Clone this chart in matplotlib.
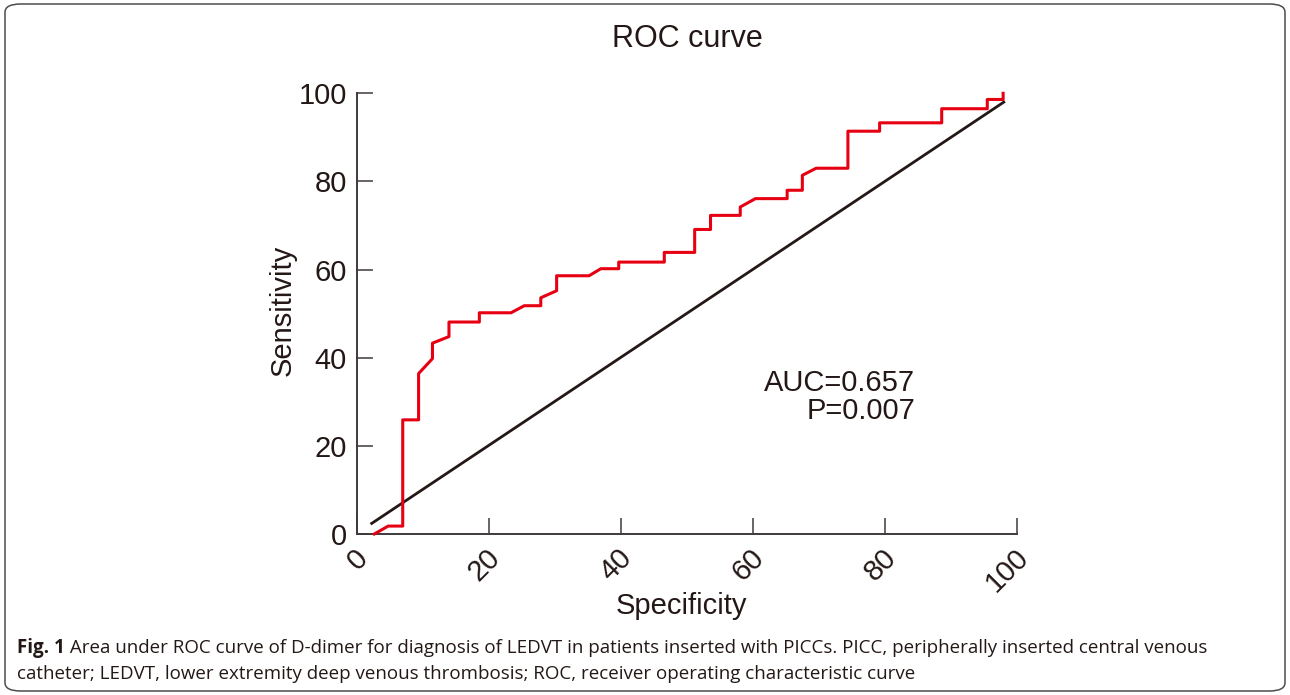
import matplotlib
matplotlib.use("Agg")
import matplotlib.pyplot as plt
from matplotlib.patches import FancyBboxPatch
from matplotlib.transforms import ScaledTranslation

# ROC curve points (specificity axis, sensitivity)
roc_x = [2.7, 4.8, 7.0, 7.0, 9.4, 9.4, 11.5, 11.5, 14.0, 14.0, 18.6, 18.6,
         23.4, 25.4, 27.9, 27.9, 30.3, 30.3, 35.2, 37.0, 39.7, 39.7, 46.6,
         46.6, 51.2, 51.2, 53.6, 53.6, 58.1, 58.1, 60.4, 65.2, 65.2, 67.5,
         67.5, 69.6, 74.4, 74.4, 79.2, 79.2, 88.6, 88.6, 95.5, 95.5, 97.9, 97.9]
roc_y = [0.0, 1.8, 1.8, 25.9, 25.9, 36.4, 39.8, 43.3, 44.8, 48.1, 48.1, 50.2,
         50.2, 51.8, 51.8, 53.6, 55.2, 58.6, 58.6, 60.2, 60.2, 61.7, 61.7,
         63.9, 63.9, 69.1, 69.1, 72.3, 72.3, 74.2, 76.1, 76.1, 78.0, 78.0,
         81.4, 83.0, 83.0, 91.4, 91.4, 93.3, 93.3, 96.5, 96.5, 98.6, 98.6, 100.0]
ref_x = [2.3, 98.0]
ref_y = [2.4, 98.0]

ticks = [0, 20, 40, 60, 80, 100]
auc_lines = ["AUC=0.657", "P=0.007"]
caption_bold = "Fig. 1"
caption_1 = (" Area under ROC curve of D-dimer for diagnosis of LEDVT in patients "
             "inserted with PICCs. PICC, peripherally inserted central venous")
caption_2 = ("catheter; LEDVT, lower extremity deep venous thrombosis; ROC, "
             "receiver operating characteristic curve")

TXT = "#231815"
AX = "#3e3a39"
RED = "#e60012"
W, H = 1290, 695

plt.rcParams["font.family"] = ["Liberation Sans", "DejaVu Sans"]

fig = plt.figure(figsize=(W / 100, H / 100), dpi=100)
ax = fig.add_axes([356.5 / W, 1 - 534 / H, (1017 - 356.5) / W, (534 - 93.3) / H])

ax.plot(ref_x, ref_y, color=TXT, lw=2.0, clip_on=False, zorder=2)
ax.plot(roc_x, roc_y, color=RED, lw=2.2, clip_on=False, zorder=3)

ax.set_xlim(0, 100)
ax.set_ylim(0, 100)
for s in ["top", "right"]:
    ax.spines[s].set_visible(False)
for s in ["left", "bottom"]:
    ax.spines[s].set_color(AX)
    ax.spines[s].set_linewidth(1.4)

ax.set_xticks(ticks)
ax.set_yticks(ticks)
ax.set_yticklabels([str(t) for t in ticks])
ax.set_xticklabels([str(t) for t in ticks], rotation=45, ha="right",
                   va="center", rotation_mode="anchor")
ax.tick_params(direction="in", length=11.5, width=1.1, color=AX,
               labelsize=21, labelcolor=TXT)
ax.tick_params(axis="x", pad=14)
ax.tick_params(axis="y", pad=7)
for lab in ax.get_xticklabels():
    lab.set_transform(lab.get_transform()
                      + ScaledTranslation(5 / 72, 0, fig.dpi_scale_trans))

ax.text(84.6, 32.5, auc_lines[0], ha="right", va="baseline",
        fontsize=21, color=TXT)
ax.text(84.6, 26.1, auc_lines[1], ha="right", va="baseline",
        fontsize=21, color=TXT)

fig.text(687 / W, 1 - 46.7 / H, "ROC curve", ha="center", va="baseline",
         fontsize=22, color=TXT)
fig.text(283 / W, 1 - 310 / H, "Sensitivity", ha="center", va="center",
         rotation=90, fontsize=21, color=TXT)
fig.text(681 / W, 1 - 614 / H, "Specificity", ha="center", va="baseline",
         fontsize=21, color=TXT)

# caption, bold lead-in then regular text
cap_kw = dict(fontsize=13.5, color=TXT, family=["Open Sans", "DejaVu Sans"],
              va="baseline")
t0 = fig.text(17 / W, 1 - 653 / H, caption_bold, fontweight="bold", **cap_kw)
r = fig.canvas.get_renderer()
bb = t0.get_window_extent(renderer=r)
fig.text(bb.x1 / W, 1 - 653 / H, caption_1, **cap_kw)
fig.text(17 / W, 1 - 679 / H, caption_2, **cap_kw)

# rounded frame round the whole figure
frame = FancyBboxPatch((5 / W, 4 / H), (W - 10) / W, (H - 8) / H,
                       boxstyle="round,pad=0,rounding_size=0.012",
                       transform=fig.transFigure, fill=False,
                       edgecolor="#4d4d4d", lw=1.1)
fig.patches.append(frame)

fig.savefig("out.png", dpi=100)
